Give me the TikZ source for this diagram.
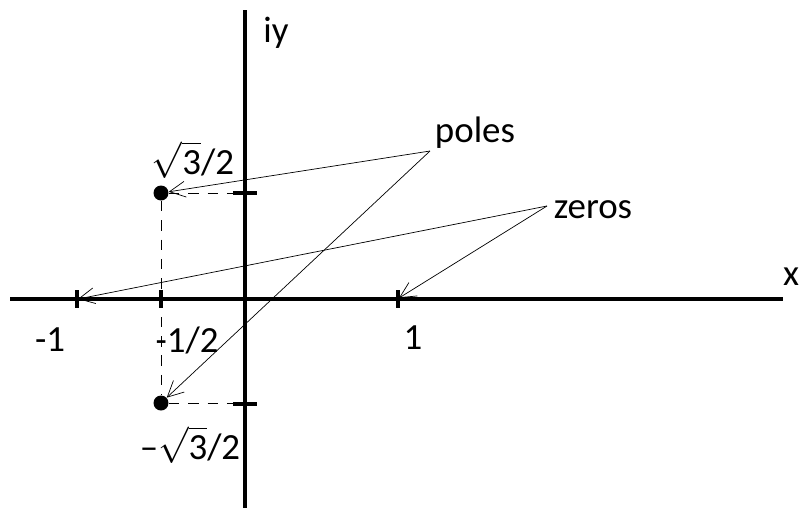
\documentclass[tikz,border=0pt]{standalone}
\usepackage{amsmath,amssymb}
\usepackage{fontspec}
\setmainfont{Carlito}
\usetikzlibrary{arrows.meta}

\begin{document}
\begin{tikzpicture}[x=0.02cm,y=-0.02cm,
  axe/.style={line width=2pt},%axes epais
  graduation/.style={line width=2pt},
  pointille/.style={dashed,dash pattern=on 6pt off 5pt,line width=0.5pt},
  fleche/.style={line width=0.4pt,-{Straight Barb[length=9pt,width=9pt]}},
  pole/.style={circle,fill=black,inner sep=0pt,minimum size=0.3cm},
  every node/.style={font=\fontsize{21}{25}\selectfont}]
\useasboundingbox (0,0) rectangle (799,508);
% axes
\draw[axe] (10,299) -- (783,299);
\draw[axe] (245,10) -- (245,508);
\node (lx) at (791,277) {x};
\node (liy) at (276,33) {iy};
% graduations
\draw[graduation] (77,290) -- (77,308);
\draw[graduation] (161,290) -- (161,308);
\draw[graduation] (398,290) -- (398,308);
\draw[graduation] (233,193) -- (257,193);
\draw[graduation] (233,404) -- (257,404);
% poles
\node[pole] (pHaut) at (161,193) {};
\node[pole] (pBas) at (161,403) {};
\draw[pointille] (pHaut) -- (245,193);
\draw[pointille] (pBas) -- (245,403);
\draw[pointille] (pHaut) -- (pBas);
% zeros
\coordinate (zMoinsUn) at (78,299);
\coordinate (zUn) at (399,298);
% etiquettes
\node (lMoinsUn) at (50,340) {-1};
\node (lDemi) at (187,340) {-1/2};
\node (lUn) at (413,338) {1};
\node (lHaut) at (193,160) {$\sqrt{\text{3}}$/2};
\node (lBas) at (190,445) {–$\sqrt{\text{3}}$/2};
\node (lPoles) at (475,133) {poles};
\node (lZeros) at (593,210) {zeros};
\coordinate (qPoles) at (430,151);
\coordinate (qZeros) at (547,206);
% fleches
\draw[fleche] (qPoles) -- (pHaut);
\draw[fleche] (qPoles) -- (pBas);
\draw[fleche] (qZeros) -- (zMoinsUn);
\draw[fleche] (qZeros) -- (zUn);
\end{tikzpicture}
\end{document}
